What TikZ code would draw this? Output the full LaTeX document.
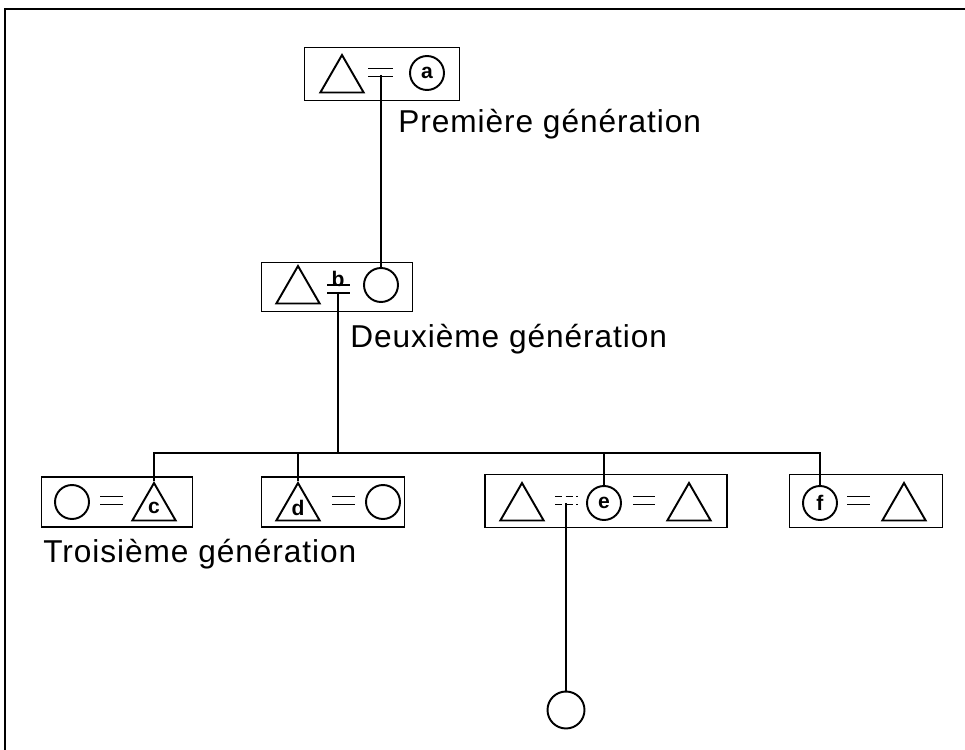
\documentclass[tikz,border=0pt]{standalone}
\usepackage{fontspec}
\setmainfont{Liberation Sans}
\usetikzlibrary{shapes.geometric}
\tikzset{
  famille/.style = {rectangle, draw, line width=1pt, minimum height=1cm, inner sep=0pt},
  homme/.style = {regular polygon, regular polygon sides=3, draw, line width=1.1pt, minimum size=1cm, inner sep=0pt, font=\bfseries\large},
  femme/.style = {circle, draw, line width=1.1pt, minimum size=0.68cm, inner sep=0pt, font=\bfseries\large},
  gen/.style = {font=\fontsize{18}{20}\selectfont\addfontfeatures{LetterSpace=3}, anchor=base west, inner sep=0pt},
  trait/.style = {line width=1pt},
  alliance/.style = {line width=1pt, double distance=3.5pt, double=white},
}

\begin{document}
\begin{tikzpicture}[x=0.02cm, y=-0.02cm]
\useasboundingbox (0,0) rectangle (965,750);
% cadre
\draw[line width=0.8pt] (5,750) -- (5,9) -- (965,9);

% premiere generation
\node[famille, minimum width=3.1cm, minimum height=1.06cm] (f1) at (382,74) {};
\node[homme] (p1) at (342,80) {};
\node[femme] (ma) at (427,73) {a};
\draw[alliance] (368,72.5) -- (393,72.5);
\coordinate (d1) at (381,75);
\node[gen] (g1) at (398,133) {Première génération};

% deuxieme generation
\node[famille, minimum width=3.02cm, minimum height=0.98cm] (f2) at (337,287) {};
\node[homme] (p2) at (298,291) {};
\node[femme] (ego) at (381,285) {};
\draw[alliance] (327,289) -- (350,289);
\node[font=\bfseries\large, inner sep=0pt] (lb) at (338,279) {b};
\coordinate (d2) at (338,292);
\node[gen] (g2) at (350,348) {Deuxième génération};

\draw[trait] (d1) -- (ego.north);

% troisieme generation
\node[famille, minimum width=3.02cm] (fc) at (117,502) {};
\node[femme] (fc1) at (72,502) {};
\node[homme] (tc) at (154,508) {c};
\draw[alliance] (100,500.5) -- (123,500.5);

\node[famille, minimum width=2.86cm] (fd) at (333,502) {};
\node[homme] (td) at (298,508) {d};
\node[femme] (fd1) at (383,502) {};
\draw[alliance] (332,500.5) -- (355,500.5);

\node[famille, minimum width=4.84cm, minimum height=1.06cm] (fe) at (606,501) {};
\node[homme] (te1) at (522,508) {};
\node[femme] (me) at (604,503) {e};
\node[homme] (te2) at (689,508) {};
\draw[alliance, dash pattern=on 4pt off 2pt] (555,500.5) -- (578,500.5);
\draw[alliance] (633,500.5) -- (655,500.5);
\coordinate (d3) at (566,503);

\node[famille, minimum width=3.06cm, minimum height=1.06cm] (ff) at (866,501) {};
\node[femme] (mf) at (820,503) {f};
\node[homme] (tf) at (904,508) {};
\draw[alliance] (847,500.5) -- (870,500.5);

\node[gen] (g3) at (43,562) {Troisième génération};

% descendance
\coordinate (barre) at (500,453);
\draw[trait] (tc.corner 1) |- (barre) -| (mf.north);
\draw[trait] (td.corner 1) -- (td.corner 1 |- barre);
\draw[trait] (me.north) -- (me.north |- barre);
\draw[trait] (d2) -- (d2 |- barre);

% quatrieme generation
\node[femme, minimum size=0.74cm] (bas) at (566,710) {};
\draw[trait] (d3) -- (bas.north);
\end{tikzpicture}
\end{document}
